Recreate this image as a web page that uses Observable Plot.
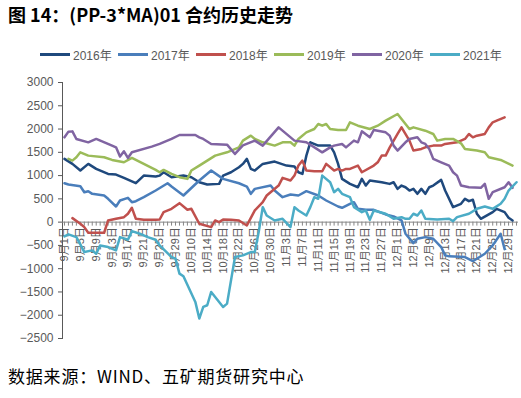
<!DOCTYPE html>
<html><head><meta charset="utf-8">
<script src="https://cdn.jsdelivr.net/npm/d3@7"></script>
<script src="https://cdn.jsdelivr.net/npm/@observablehq/plot@0.6"></script>
<style>
body{margin:0;background:#fff;}
#wrap{position:relative;width:521px;height:398px;overflow:hidden;background:#fff;font-family:"Noto Sans CJK SC",sans-serif;}
#title{position:absolute;left:8px;top:1px;font-size:18px;font-weight:bold;color:#000;white-space:nowrap;}
#legend{position:absolute;left:40px;top:46px;display:flex;font-size:12px;color:#595959;font-family:"Liberation Sans","Noto Sans CJK SC",sans-serif;}
.item{display:flex;align-items:center;width:78px;white-space:nowrap;}
.sw{width:30px;height:3px;margin-right:3px;}
#chart{position:absolute;left:0;top:70px;}
#caption{position:absolute;left:8px;top:363px;font-size:17px;letter-spacing:0.8px;color:#000;white-space:nowrap;}
</style></head>
<body><div id="wrap">
<div id="title">图 14：(PP-3*MA)01 合约历史走势</div>
<div id="legend"></div>
<div id="chart"></div>
<div id="caption">数据来源：WIND、五矿期货研究中心</div>
</div>
<script>
// categories: calendar days Sep 1 – Dec 31, National Day holiday (Oct 1–7) excluded
const monthRanges = [[9, 1, 30], [10, 8, 31], [11, 1, 30], [12, 1, 31]];
const categories = [];
for (const [m, a, b] of monthRanges) for (let d = a; d <= b; d++) categories.push(`${m}月${d}日`);

const tickLabels = ["9月1日","9月5日","9月9日","9月13日","9月17日","9月21日","9月25日","9月29日",
  "10月10日","10月14日","10月18日","10月22日","10月26日","10月30日",
  "11月3日","11月7日","11月11日","11月15日","11月19日","11月23日","11月27日",
  "12月1日","12月5日","12月9日","12月13日","12月17日","12月21日","12月25日","12月29日"];
const yTicks = [-2500,-2000,-1500,-1000,-500,0,500,1000,1500,2000,2500,3000];

const seriesNames = ["2016年","2017年","2018年","2019年","2020年","2021年"];
const seriesColors = ["#1f497d","#4a7ebb","#c0504d","#9bbb59","#8064a2","#4bacc6"];

const s2016 = [["9月1日",1359],["9月3日",1251],["9月5日",1108],["9月7日",1251],["9月9日",1144],["9月12日",1036],["9月14日",1022],["9月16日",951],["9月19日",836],["9月21日",1000],["9月24日",979],["9月25日",1000],["9月26日",1072],["9月28日",965],["10月8日",1000],["10月10日",965],["10月12日",857],["10月14日",808],["10月17日",822],["10月18日",1000],["10月20日",1072],["10月22日",1179],["10月23日",1251],["10月24日",1359],["10月25日",1144],["10月26日",1108],["10月28日",1251],["10月31日",1301],["11月3日",1215],["11月5日",1194],["11月6日",1072],["11月7日",1036],["11月8日",1429],["11月9日",1715],["11月11日",1644],["11月14日",1644],["11月15日",1500],["11月16日",1251],["11月17日",929],["11月19日",822],["11月21日",750],["11月22日",929],["11月23日",786],["11月24日",894],["11月27日",857],["11月29日",822],["11月30日",857],["12月1日",715],["12月2日",786],["12月3日",750],["12月4日",679],["12月5日",715],["12月6日",608],["12月7日",715],["12月8日",608],["12月9日",750],["12月10日",786],["12月12日",908],["12月13日",679],["12月15日",322],["12月17日",394],["12月18日",501],["12月19日",450],["12月20日",480],["12月21日",180],["12月22日",72],["12月25日",215],["12月26日",286],["12月28日",215],["12月29日",94],["12月30日",36]];

const s2017 = [["9月1日",836],["9月2日",808],["9月5日",772],["9月6日",643],["9月7日",665],["9月8日",608],["9月11日",572],["9月12日",501],["9月14日",336],["9月15日",465],["9月17日",522],["9月18日",429],["9月19日",450],["9月21日",536],["9月24日",679],["9月27日",836],["9月28日",765],["10月8日",572],["10月12日",894],["10月15日",1108],["10月18日",929],["10月22日",836],["10月24日",765],["10月25日",608],["10月26日",715],["10月30日",786],["10月31日",679],["11月2日",536],["11月4日",593],["11月6日",572],["11月8日",665],["11月11日",572],["11月13日",465],["11月16日",336],["11月17日",308],["11月19日",394],["11月20日",429],["11月21日",286],["11月23日",265],["11月25日",265],["11月28日",165],["11月30日",122],["12月2日",36],["12月3日",-249],["12月5日",-450],["12月6日",-357],["12月8日",-322],["12月10日",-357],["12月12日",-536],["12月13日",-714],["12月14日",-735],["12月18日",-750],["12月20日",-836],["12月21日",-786],["12月23日",-679],["12月25日",-500],["12月27日",-249],["12月28日",-580]];

const s2018 = [["9月3日",86],["9月5日",-34],["9月6日",-107],["9月7日",-228],["9月11日",-228],["9月12日",36],["9月14日",72],["9月16日",107],["9月17日",180],["9月18日",308],["9月19日",72],["9月21日",51],["9月24日",51],["9月25日",57],["9月26日",215],["9月28日",286],["9月30日",408],["10月9日",265],["10月10日",286],["10月12日",-34],["10月15日",-107],["10月16日",36],["10月17日",0],["10月18日",57],["10月20日",51],["10月22日",36],["10月24日",-71],["10月26日",251],["10月28日",429],["10月29日",572],["11月1日",786],["11月2日",951],["11月4日",894],["11月5日",1000],["11月6日",1215],["11月7日",1322],["11月8日",1108],["11月10日",1093],["11月12日",1093],["11月13日",1251],["11月15日",1108],["11月16日",1144],["11月17日",1108],["11月18日",1144],["11月19日",1144],["11月21日",1215],["11月22日",1072],["11月25日",1215],["11月26日",1286],["11月27日",1429],["11月28日",1429],["11月29日",1600],["12月1日",1894],["12月2日",2036],["12月4日",1751],["12月5日",1537],["12月7日",1573],["12月8日",1607],["12月10日",1644],["12月12日",1644],["12月13日",1680],["12月16日",1715],["12月18日",1787],["12月19日",1894],["12月20日",1822],["12月21日",1858],["12月23日",1894],["12月24日",2036],["12月25日",2144],["12月26日",2180],["12月28日",2251]];

const s2019 = [["9月2日",1359],["9月3日",1322],["9月4日",1393],["9月5日",1500],["9月7日",1429],["9月11日",1393],["9月13日",1337],["9月16日",1286],["9月18日",1380],["9月21日",1251],["9月24日",1122],["9月25日",1072],["9月26日",1122],["9月28日",1036],["9月30日",965],["10月9日",929],["10月10日",1108],["10月12日",1215],["10月14日",1322],["10月16日",1429],["10月19日",1500],["10月22日",1607],["10月23日",1751],["10月25日",1858],["10月26日",1787],["10月28日",1715],["10月31日",1644],["11月2日",1715],["11月4日",1715],["11月5日",1644],["11月6日",1787],["11月8日",1929],["11月10日",2001],["11月11日",2108],["11月12日",2072],["11月13日",2108],["11月14日",2001],["11月16日",1980],["11月18日",1980],["11月19日",2144],["11月21日",2072],["11月24日",2001],["11月26日",2072],["11月28日",2180],["12月1日",2323],["12月2日",2216],["12月4日",2001],["12月5日",2036],["12月8日",1965],["12月10日",1894],["12月11日",1751],["12月13日",1787],["12月15日",1787],["12月17日",1693],["12月18日",1573],["12月21日",1537],["12月23日",1500],["12月24日",1393],["12月27日",1337],["12月30日",1215]];

const s2020 = [["9月1日",1822],["9月2日",1944],["9月3日",1950],["9月4日",1787],["9月7日",1714],["9月9日",1787],["9月13日",1644],["9月14日",1607],["9月15日",1408],["9月16日",1522],["9月17日",1380],["9月18日",1500],["9月23日",1622],["9月25日",1680],["9月28日",1787],["9月30日",1872],["10月11日",1872],["10月12日",1822],["10月13日",1787],["10月15日",1680],["10月19日",1665],["10月21日",1465],["10月23日",1650],["10月26日",1750],["10月28日",1644],["11月1日",2036],["11月5日",1751],["11月8日",1715],["11月12日",1500],["11月14日",1607],["11月15日",1644],["11月17日",1680],["11月18日",1607],["11月20日",1751],["11月21日",1715],["11月22日",1951],["11月24日",1822],["11月25日",1980],["11月28日",1929],["11月29日",1858],["11月30日",1644],["12月1日",1537],["12月3日",1715],["12月4日",1787],["12月6日",1822],["12月7日",1715],["12月8日",1680],["12月9日",1573],["12月10日",1359],["12月12日",1286],["12月14日",1215],["12月15日",1072],["12月16日",1000],["12月17日",786],["12月19日",750],["12月22日",737],["12月23日",822],["12月24日",501],["12月25日",643],["12月28日",750],["12月29日",857],["12月30日",737]];

const s2021 = [["9月1日",-306],["9月2日",-263],["9月4日",-322],["9月5日",-478],["9月6日",-643],["9月8日",-607],["9月9日",-679],["9月10日",-500],["9月12日",-536],["9月14日",-607],["9月15日",-322],["9月17日",-379],["9月18日",-193],["9月20日",-249],["9月22日",-322],["9月24日",-379],["9月25日",-500],["9月28日",-750],["9月29日",-786],["9月30日",-1106],["10月8日",-1164],["10月11日",-1714],["10月12日",-2071],["10月13日",-1822],["10月14日",-1786],["10月15日",-1500],["10月18日",-1822],["10月19日",-1750],["10月21日",-750],["10月23日",-714],["10月25日",-643],["10月26日",-643],["10月27日",-200],["10月28日",322],["10月29日",143],["10月31日",36],["11月2日",72],["11月4日",-107],["11月5日",322],["11月6日",251],["11月8日",143],["11月9日",322],["11月10日",536],["11月11日",501],["11月12日",1000],["11月14日",857],["11月15日",643],["11月16日",715],["11月17日",608],["11月19日",536],["11月20日",322],["11月22日",215],["11月23日",251],["11月24日",51],["11月25日",251],["11月28日",180],["11月30日",72],["12月2日",107],["12月3日",72],["12月4日",72],["12月5日",180],["12月6日",143],["12月7日",251],["12月8日",72],["12月11日",57],["12月14日",72],["12月15日",21],["12月16日",107],["12月19日",180],["12月21日",286],["12月23日",336],["12月25日",286],["12月27日",394],["12月28日",501],["12月29日",679],["12月31日",857]];

const allSeries = [s2016, s2017, s2018, s2019, s2020, s2021];

// legend
const legend = document.getElementById("legend");
seriesNames.forEach((n, i) => {
  const it = document.createElement("div"); it.className = "item";
  const sw = document.createElement("div"); sw.className = "sw"; sw.style.background = seriesColors[i];
  const tx = document.createElement("span"); tx.textContent = n;
  it.appendChild(sw); it.appendChild(tx); legend.appendChild(it);
});

const pxPerUnit = (280 - 24) / 5500;
const tickLen = 4 / pxPerUnit;

const chart = Plot.plot({
  width: 521, height: 280,
  marginLeft: 62, marginRight: 3, marginTop: 12, marginBottom: 12,
  style: {fontFamily: '"Liberation Sans","Noto Sans CJK SC",sans-serif', fontSize: "12px", color: "#595959", background: "white"},
  x: {type: "point", domain: categories, padding: 0.5, axis: null},
  y: {domain: [-2500, 3000], ticks: yTicks, tickFormat: d3.format("d"), tickSize: 4, tickPadding: 5, line: true, label: null},
  marks: [
    Plot.ruleY([0], {stroke: "#868686"}),
    Plot.ruleX(categories, {x: d => d, y1: 0, y2: -tickLen, stroke: "#868686"}),
    Plot.text(tickLabels, {x: d => d, y: 0, text: d => d, rotate: -90, textAnchor: "end", dy: 5, fontSize: 11, fill: "#595959"}),
    ...allSeries.map((s, i) => Plot.line(s, {x: d => d[0], y: d => d[1], stroke: seriesColors[i], strokeWidth: 2.5}))
  ]
});
document.getElementById("chart").appendChild(chart);
</script>
</body></html>
